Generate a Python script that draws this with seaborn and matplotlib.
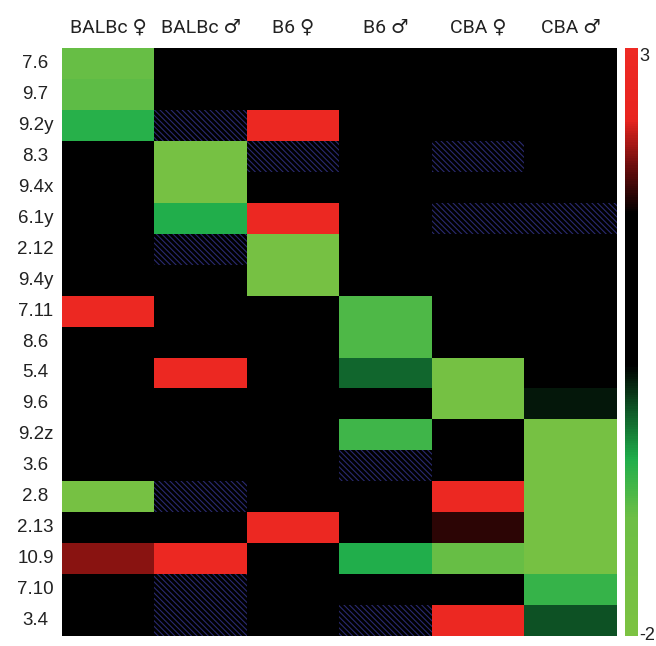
import numpy as np
import pandas as pd
import seaborn as sns
import matplotlib.pyplot as plt
from matplotlib.colors import LinearSegmentedColormap

sns.set_style('white')
plt.rcParams['font.family'] = ['Liberation Sans', 'DejaVu Sans']
plt.rcParams['hatch.linewidth'] = 0.8

rows = ['7.6', '9.7', '9.2y', '8.3', '9.4x', '6.1y', '2.12', '9.4y', '7.11', '8.6',
        '5.4', '9.6', '9.2z', '3.6', '2.8', '2.13', '10.9', '7.10', '3.4']
cols = ['BALBc ♀', 'BALBc ♂', 'B6 ♀', 'B6 ♂', 'CBA ♀', 'CBA ♂']

nan = np.nan
K = 1.0  # "no change" cells (black band of the scale)

balbc_f = [-0.95, -0.9, -0.55, K, K, K, K, K, 2.8, K, K, K, K, K, -1.6, K, 2.1, K, K]
balbc_m = [K, K, nan, -1.6, -1.6, -0.5, nan, K, K, K, 2.8, K, K, K, nan, K, 2.8, nan, nan]
b6_f = [K, K, 2.8, nan, K, 2.8, -1.6, -1.6, K, K, K, K, K, K, K, 2.8, K, K, K]
b6_m = [K, K, K, K, K, K, K, K, -0.8, -0.8, -0.15, K, -0.7, nan, K, K, -0.5, K, nan]
cba_f = [K, K, K, nan, K, nan, K, K, K, K, -1.5, -1.5, K, K, 2.8, 1.75, -0.95, K, 2.8]
cba_m = [K, K, K, K, K, nan, K, K, K, K, K, 0.2, -1.6, -1.6, -1.6, -1.6, -1.6, -0.65, -0.05]

df = pd.DataFrame(dict(zip(cols, [balbc_f, balbc_m, b6_f, b6_m, cba_f, cba_m])), index=rows)

# green -> black -> red scale from -2 to 3
vmin, vmax = -2, 3
nodes = [(-2, '#7cc242'), (-1.0, '#6dbf45'), (-0.5, '#1fae4b'), (-0.1, '#0f5a28'),
         (0.3, '#000000'), (1.6, '#000000'), (2.0, '#6a0d0d'), (2.4, '#e8241f'), (3, '#ee2a24')]
cmap = LinearSegmentedColormap.from_list(
    'gkr', [((v - vmin) / (vmax - vmin), c) for v, c in nodes])

fig = plt.figure(figsize=(6.56, 6.46), dpi=100)
ax = fig.add_axes([0.0945, 0.0155, 0.846, 0.910])
cax = fig.add_axes([0.9527, 0.0155, 0.0198, 0.910])

sns.heatmap(df, ax=ax, cbar_ax=cax, cmap=cmap, vmin=vmin, vmax=vmax,
            cbar_kws={'ticks': [vmin, vmax]})

# missing values: hatched dark background
ax.set_facecolor('black')
ax.patch.set_hatch('\\' * 6)
ax.patch.set_edgecolor('#2a2a70')

ax.xaxis.tick_top()
ax.set_xlabel('')
ax.set_ylabel('')
ax.set_xticklabels(cols, rotation=0, fontsize=14, color='#222222',
                   family=['Roboto', 'DejaVu Sans'])
ax.set_yticklabels(rows, rotation=0, fontsize=13.5, color='#222222', ha='center')
ax.tick_params(axis='x', length=0, pad=8)
ax.tick_params(axis='y', length=0, pad=19)

cax.set_yticklabels(['-2', '3'], fontsize=13, color='#222222')
cax.tick_params(length=0, pad=1)
labs = cax.get_yticklabels()
labs[0].set_va('center')
labs[1].set_va('top')
ax.collections[0].colorbar.outline.set_visible(False)

fig.savefig('out.png', dpi=100)
